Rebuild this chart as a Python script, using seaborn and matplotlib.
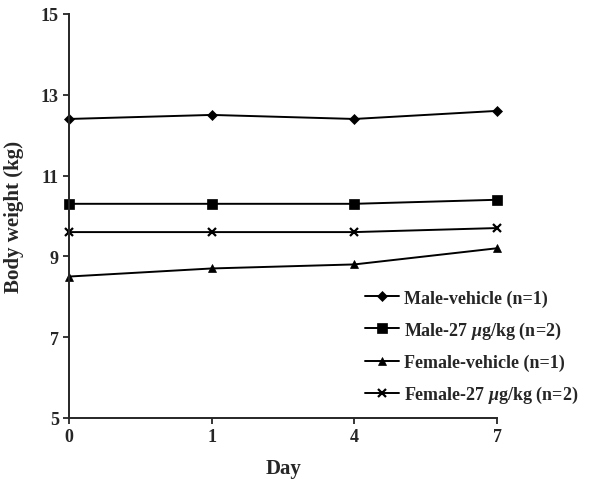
import pandas as pd
import seaborn as sns
import matplotlib.pyplot as plt

days = ["0", "1", "4", "7"]
male_vehicle = [12.4, 12.5, 12.4, 12.6]
male_27 = [10.3, 10.3, 10.3, 10.4]
female_vehicle = [8.5, 8.7, 8.8, 9.2]
female_27 = [9.6, 9.6, 9.6, 9.7]

labels = ["Male-vehicle (n=1)", r"Male-27 $\mu$g/kg (n=2)",
          "Female-vehicle (n=1)", r"Female-27 $\mu$g/kg (n=2)"]
series = [male_vehicle, male_27, female_vehicle, female_27]
markers = ["D", "s", "^", "x"]
msizes = [5, 6.5, 6, 5.5]

sns.set_style("ticks")
plt.rcParams["font.family"] = ["Liberation Serif", "DejaVu Serif"]
plt.rcParams["font.weight"] = "bold"
plt.rcParams["mathtext.fontset"] = "custom"
plt.rcParams["mathtext.it"] = "Liberation Serif:italic:bold"
plt.rcParams["mathtext.rm"] = "Liberation Serif:bold"

fig = plt.figure(figsize=(5.96, 4.81), dpi=100)
ax = fig.add_axes([0.116, 0.129, 0.718, 0.84])

for lab, vals, m, ms in zip(labels, series, markers, msizes):
    df = pd.DataFrame({"Day": days, "Weight": vals})
    sns.lineplot(data=df, x="Day", y="Weight", ax=ax, color="black",
                 marker=m, markersize=ms, markeredgecolor="black",
                 markeredgewidth=1.6 if m == "x" else 0.5,
                 linewidth=1.4, label=lab, clip_on=False)

ax.set_xlim(0, 3)
ax.set_ylim(5, 15)
ax.set_yticks([5, 7, 9, 11, 13, 15])
ax.set_xlabel("Day", fontsize=15, fontweight="bold", labelpad=9)
ax.set_ylabel("Body weight (kg)", fontsize=15, fontweight="bold", labelpad=12)
ax.tick_params(axis="both", labelsize=13, width=1.3, length=4, direction="out")
for lbl in ax.get_xticklabels() + ax.get_yticklabels():
    lbl.set_fontweight("bold")
for s in ["left", "bottom"]:
    ax.spines[s].set_linewidth(1.4)
sns.despine(ax=ax)

ax.legend(loc="lower left", bbox_to_anchor=(0.665, 0.005), frameon=False,
          fontsize=13, handlelength=1.9, handletextpad=0.3,
          labelspacing=0.72, borderaxespad=0.2)

plt.savefig("out.png", dpi=100)
